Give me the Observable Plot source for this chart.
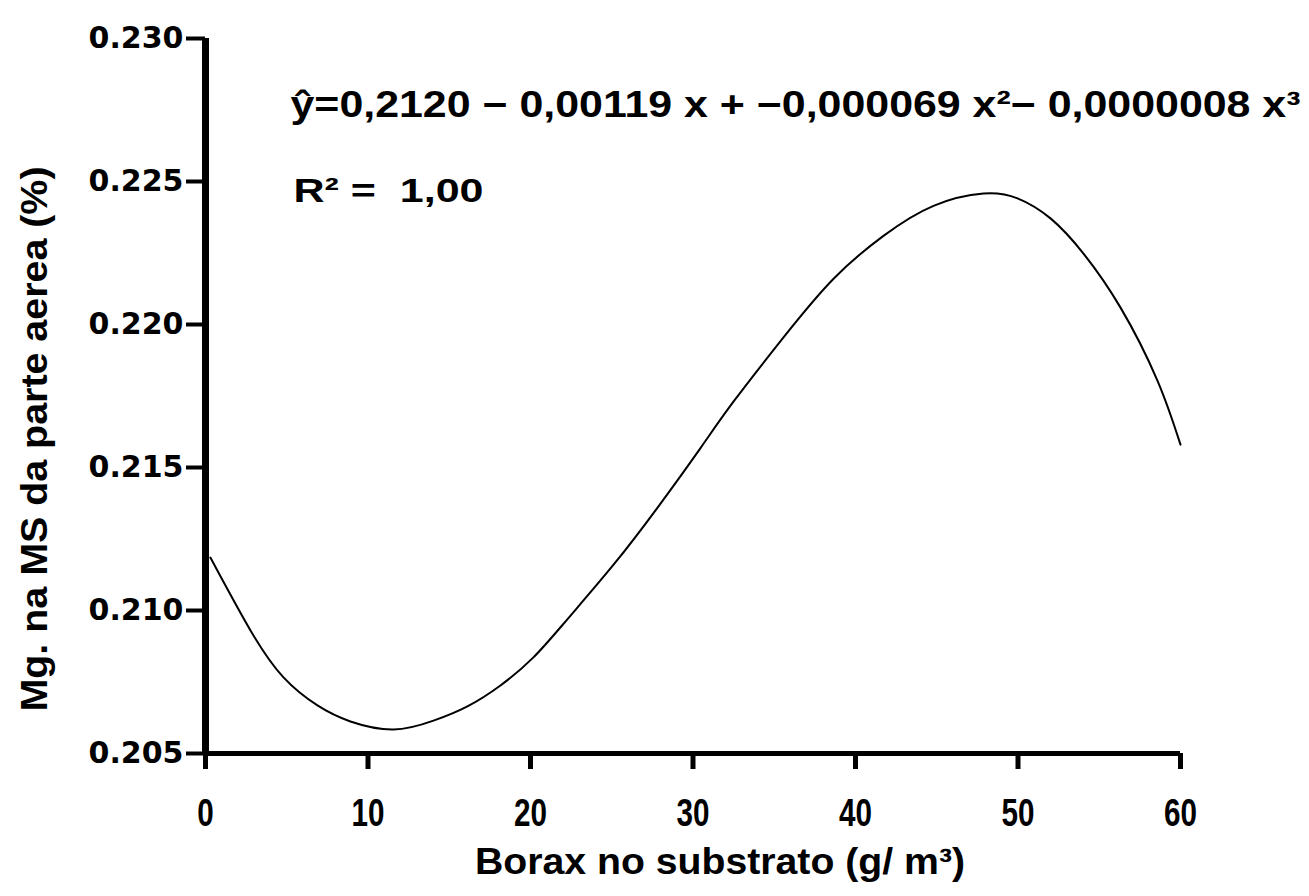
<!DOCTYPE html>
<html>
<head>
<meta charset="utf-8">
<script src="https://cdn.jsdelivr.net/npm/d3@7"></script>
<script src="https://cdn.jsdelivr.net/npm/@observablehq/plot@0.6"></script>
<style>
  html, body { margin: 0; padding: 0; background: white; }
  #chart svg { display: block; }
</style>
</head>
<body>
<div id="chart"></div>
<script>
// Data
const borax = [0.3, 2.77, 4.80, 6.89, 8.92, 11.57, 14.03, 16.12, 18.15, 20.18, 22.28, 25.11, 27.82, 30.46, 32.49, 35.57, 38.65, 41.72, 44.80, 47.88, 49.97, 52.0, 54.03, 56.31, 58.58, 60.0];
const mg = [0.21185, 0.20930, 0.20766, 0.20668, 0.20612, 0.20584, 0.20615, 0.20665, 0.20738, 0.20836, 0.20970, 0.21160, 0.21360, 0.21568, 0.21730, 0.21955, 0.22160, 0.22310, 0.22415, 0.22458, 0.22441, 0.22371, 0.22248, 0.22059, 0.21804, 0.21580];
const xTicks = [0, 10, 20, 30, 40, 50, 60];
const yTicks = [0.205, 0.210, 0.215, 0.220, 0.225, 0.230];
const equationText = "ŷ=0,2120 − 0,00119 x + −0,000069 x²− 0,0000008 x³";
const r2Text = "R² =  1,00";
const xLabel = "Borax no substrato (g/ m³)";
const yLabel = "Mg. na MS da parte aerea (%)";

const curve = borax.map((x, i) => ({x, y: mg[i]}));
const font = "'Liberation Sans', Arial, sans-serif";

const chart = Plot.plot({
  width: 1309,
  height: 896,
  marginLeft: 205,
  marginRight: 129,
  marginTop: 38,
  marginBottom: 143,
  style: {fontFamily: font, fontWeight: "bold", background: "white", color: "black"},
  x: {domain: [0, 60]},
  y: {domain: [0.205, 0.230]},
  marks: [
    Plot.axisY({ticks: yTicks, tickFormat: d3.format(".3f"), tickSize: 19, tickPadding: 3, fontSize: 30, fontFamily: "'DejaVu Sans', sans-serif", fontWeight: "bold", strokeWidth: 4, label: null}),
    Plot.axisX({ticks: xTicks, tickSize: 16, tickPadding: 30, fontSize: 38, fontWeight: "bold", strokeWidth: 5, label: null}),
    Plot.ruleX([0], {strokeWidth: 7, stroke: "black"}),
    Plot.ruleY([0.205], {strokeWidth: 5, stroke: "black"}),
    Plot.line(curve, {x: "x", y: "y", curve: "natural", stroke: "black", strokeWidth: 2}),
    Plot.text([equationText], {frameAnchor: "top-left", dx: 85, dy: 52, textAnchor: "start", fontSize: 37, fontWeight: "bold", fill: "black"}),
    Plot.text([r2Text], {frameAnchor: "top-left", dx: 88, dy: 140, textAnchor: "start", fontSize: 33, fontWeight: "bold", fill: "black"}),
    Plot.text([xLabel], {frameAnchor: "bottom", textAnchor: "middle", dx: 27, dy: 120, fontSize: 37, fontWeight: "bold", fill: "black"}),
    Plot.text([yLabel], {frameAnchor: "left", textAnchor: "middle", rotate: -90, dx: -170, dy: 43, fontSize: 37, fontWeight: "bold", fill: "black"})
  ]
});
document.getElementById("chart").appendChild(chart);

// Stretch the annotation texts to the widths seen in the reference
const widths = new Map([[equationText, 1010], [r2Text, 190], [xLabel, 490], [yLabel, 545]]);
d3.select(chart).selectAll("text").each(function() {
  const w = widths.get(this.textContent);
  if (w) d3.select(this).attr("textLength", w).attr("lengthAdjust", "spacingAndGlyphs");
});
// Condensed look of the x tick labels
d3.select(chart).selectAll("g[aria-label='x-axis tick label'] text").each(function() {
  const w = this.getComputedTextLength();
  d3.select(this).attr("textLength", w * 0.78).attr("lengthAdjust", "spacingAndGlyphs");
});
</script>
</body>
</html>
